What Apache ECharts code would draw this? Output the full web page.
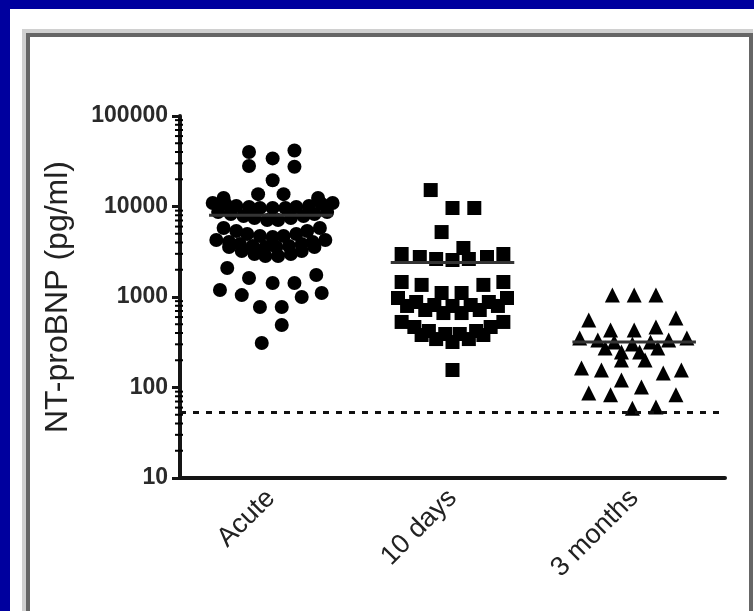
<!DOCTYPE html>
<html>
<head>
<meta charset="utf-8">
<script src="https://cdn.jsdelivr.net/npm/echarts@6/dist/echarts.min.js"></script>
<style>
  html, body { margin: 0; padding: 0; width: 754px; height: 611px; overflow: hidden; background: #00009e; }
  #white { position: absolute; left: 10px; top: 9px; width: 744px; height: 602px; background: #ffffff; }
  #frame { position: absolute; left: 22px; top: 29px; width: 723px; height: 600px; border: 4px solid #d0d0d0; }
  #frameInner { position: absolute; left: 26px; top: 33px; width: 719px; height: 600px; border: 4px solid #666666; }
  #chart { position: absolute; left: 0; top: 0; width: 754px; height: 611px; filter: blur(0.45px); }
</style>
</head>
<body>
<div id="white"></div>
<div id="frame"></div>
<div id="frameInner"></div>
<div id="chart"></div>
<script>
// ---- data ----
const categories = ['Acute', '10 days', '3 months'];
const yAxisTitle = 'NT-proBNP (pg/ml)';
const yTickLabels = [10, 100, 1000, 10000, 100000];

// each point: [horizontal spread within the category (category units), NT-proBNP value]
const acutePoints = [
  [-0.12, 40000], [-0.12, 28000], [0.01, 34000], [0.13, 41500], [0.13, 27500], [0.01, 19500],
  [-0.26, 12400], [-0.07, 13700], [0.07, 13700], [0.26, 12400],
  [-0.32, 10940], [-0.25, 10670], [-0.19, 10140], [-0.12, 9870], [-0.06, 9620], [0.01, 9620],
  [0.08, 9620], [0.14, 9870], [0.21, 10140], [0.28, 10670], [0.34, 10940],
  [-0.29, 8690], [-0.22, 8260], [-0.15, 7850], [-0.09, 7460], [-0.02, 7090], [0.04, 7090],
  [0.11, 7460], [0.18, 7850], [0.24, 8260], [0.31, 8690],
  [-0.26, 5780], [-0.19, 5355], [-0.13, 4963], [-0.06, 4720], [0.01, 4600], [0.07, 4720],
  [0.14, 4963], [0.20, 5355], [0.27, 5780],
  [-0.30, 4265], [-0.23, 4055], [-0.17, 3855], [-0.10, 3665], [-0.03, 3570], [0.03, 3570],
  [0.10, 3665], [0.17, 3855], [0.23, 4055], [0.30, 4265],
  [-0.23, 3570], [-0.16, 3225], [-0.09, 2985], [-0.03, 2840], [0.04, 2840], [0.11, 2985],
  [0.17, 3225], [0.24, 3570],
  [-0.24, 2090], [-0.12, 1620], [0.01, 1430], [0.13, 1430], [0.25, 1750],
  [-0.28, 1195], [-0.16, 1050], [0.17, 1000], [0.28, 1107],
  [-0.06, 776], [0.06, 776], [0.06, 491], [-0.05, 310]
];
const tenDayPoints = [
  [-0.12, 15200], [0, 9620], [0.12, 9620], [-0.06, 5220], [0.06, 3480],
  [-0.28, 2985], [-0.18, 2765], [-0.09, 2630], [0, 2565], [0.09, 2630], [0.19, 2765], [0.28, 2985],
  [-0.28, 1465], [-0.17, 1360], [-0.06, 1107], [0.05, 1107], [0.17, 1360], [0.28, 1465],
  [-0.30, 975], [-0.20, 881], [-0.10, 816], [0, 796], [0.10, 816], [0.20, 881], [0.30, 975],
  [-0.25, 796], [-0.15, 718], [-0.05, 665], [0.05, 665], [0.15, 718], [0.25, 796],
  [-0.28, 530], [0.28, 530],
  [-0.21, 466], [-0.13, 421], [-0.04, 390], [0.04, 390], [0.13, 421], [0.21, 466],
  [-0.17, 380], [-0.09, 343], [0, 318], [0.09, 343], [0.17, 380],
  [0, 156]
];
const threeMonthPoints = [
  [-0.12, 1050], [0, 1050], [0.12, 1050], [-0.25, 557], [0.23, 586],
  [-0.13, 432], [0, 432], [0.12, 466],
  [-0.30, 352], [-0.20, 335], [-0.11, 318], [0.09, 318], [0.19, 335], [0.29, 352], [-0.01, 303],
  [-0.16, 273], [-0.07, 247], [0.03, 247], [0.13, 273],
  [-0.07, 201], [0.06, 201],
  [-0.29, 164], [-0.18, 156], [0.16, 145], [0.26, 156],
  [-0.07, 121], [0.04, 101],
  [-0.25, 87], [-0.13, 83], [0.23, 83],
  [-0.01, 59], [0.12, 61]
];
const groupMeans = [8000, 2400, 318];
const detectionLimit = 53;
const minorTickValues = [20, 30, 40, 50, 60, 70, 80, 90,
  200, 300, 400, 500, 600, 700, 800, 900,
  2000, 3000, 4000, 5000, 6000, 7000, 8000, 9000,
  20000, 30000, 40000, 50000, 60000, 70000, 80000, 90000];

// ---- chart ----
const groups = [acutePoints, tenDayPoints, threeMonthPoints];
const symbols = ['circle', 'rect', 'triangle'];
const sizes = [14, 14, 15];
const FONT = '"Liberation Sans", Arial, sans-serif';

const scatterSeries = groups.map((pts, gi) => ({
  type: 'scatter',
  xAxisIndex: 1,
  symbol: symbols[gi],
  symbolSize: sizes[gi],
  itemStyle: { color: '#000000', opacity: 1 },
  z: 3,
  silent: true,
  data: pts.map(p => [gi + p[0], p[1]])
}));

const chart = echarts.init(document.getElementById('chart'), null, { renderer: 'canvas' });
chart.setOption({
  animation: false,
  backgroundColor: 'transparent',
  grid: { left: 180, right: 29, top: 116, bottom: 133, containLabel: false },
  xAxis: [
    {
      type: 'category',
      data: categories,
      boundaryGap: true,
      axisLine: { onZero: false, lineStyle: { color: '#151515', width: 4 } },
      axisTick: { alignWithLabel: true, length: 11, lineStyle: { color: '#151515', width: 3 } },
      axisLabel: { rotate: 45, fontSize: 27, fontFamily: FONT, color: '#222', margin: 16 },
      splitLine: { show: false }
    },
    { type: 'value', min: -0.5, max: 2.5, show: false }
  ],
  yAxis: {
    type: 'log',
    logBase: 10,
    min: yTickLabels[0],
    max: yTickLabels[yTickLabels.length - 1],
    name: yAxisTitle,
    nameLocation: 'middle',
    nameGap: 106,
    nameTextStyle: { fontSize: 32, fontFamily: FONT, color: '#222' },
    axisLine: { show: true, onZero: false, lineStyle: { color: '#151515', width: 4 } },
    axisTick: { show: true, length: 8, lineStyle: { color: '#151515', width: 3 } },
    axisLabel: { fontSize: 23, fontFamily: FONT, fontWeight: 'bold', color: '#2a2a2a', margin: 12,
      formatter: v => String(Math.round(v)) },
    splitLine: { show: false }
  },
  series: [
    ...scatterSeries,
    {
      type: 'custom',
      xAxisIndex: 1,
      z: 4,
      silent: true,
      data: groupMeans.map((m, i) => [i, m]),
      renderItem: (params, api) => {
        const x = api.value(0), m = api.value(1);
        const a = api.coord([x - 0.34, m]);
        const b = api.coord([x + 0.34, m]);
        return { type: 'line', shape: { x1: a[0], y1: a[1], x2: b[0], y2: b[1] },
          style: { stroke: '#333', lineWidth: 3 } };
      }
    },
    {
      type: 'custom',
      xAxisIndex: 1,
      z: 5,
      silent: true,
      clip: false,
      data: minorTickValues.map(v => [-0.5, v]),
      renderItem: (params, api) => {
        const p = api.coord([api.value(0), api.value(1)]);
        return { type: 'line', shape: { x1: p[0] - 5, y1: p[1], x2: p[0] + 3, y2: p[1] },
          style: { stroke: '#000', lineWidth: 2 } };
      }
    },
    {
      type: 'line',
      xAxisIndex: 1,
      data: [],
      silent: true,
      markLine: {
        silent: true,
        symbol: 'none',
        label: { show: false },
        lineStyle: { color: '#111', width: 3, type: [6, 7] },
        data: [{ yAxis: detectionLimit }]
      }
    }
  ]
});
</script>
</body>
</html>
